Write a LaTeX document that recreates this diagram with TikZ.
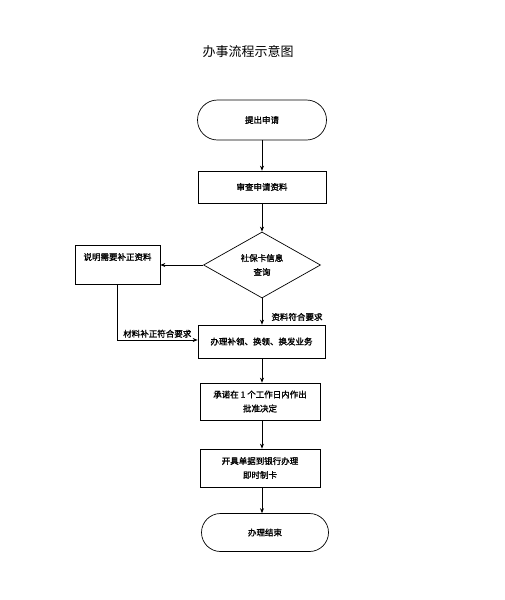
\documentclass[tikz,border=0pt]{standalone}
\usepackage{fontspec}
\setmainfont{Noto Sans CJK SC}
\newfontfamily\cjkb{Noto Sans CJK SC}[FakeBold=1.5]
\usetikzlibrary{shapes.geometric,shapes.misc,arrows.meta}
\begin{document}
\begin{tikzpicture}[x=1pt,y=-1pt,
  every node/.style={font=\cjkb\fontsize{8.5}{14}\selectfont},
  term/.style={draw,line width=0.7pt,rounded rectangle,inner sep=0pt},
  proc/.style={draw,line width=0.7pt,rectangle,inner sep=0pt,align=center},
  deci/.style={draw,line width=0.7pt,diamond,aspect=1.77,inner sep=0pt,align=center},
  lbl/.style={inner sep=1pt},
  arr/.style={line width=0.7pt,-{Stealth[length=5pt,width=4pt]}}]
\useasboundingbox (0,0) rectangle (505,600);
\node[font=\fontsize{13}{15}\selectfont] (title) at (248,52) {办事流程示意图};
\node[term,minimum width=129pt,minimum height=40pt] (start) at (262,120) {提出申请};
\node[proc,minimum width=128pt,minimum height=32pt] (review) at (262,187) {审查申请资料};
\node[deci,minimum width=117pt,minimum height=66pt] (check) at (262,265) {社保卡信息\\查询};
\node[proc,minimum width=85pt,minimum height=39pt] (fix) at (117.5,264.5) {};
\node[lbl,anchor=center] (fixt) at (117.5,257) {说明需要补正资料};
\node[proc,minimum width=127pt,minimum height=33pt] (handle) at (261.5,341.5) {办理补领、换领、换发业务};
\node[proc,minimum width=120pt,minimum height=37pt] (promise) at (260,401.5) {承诺在 1 个工作日内作出\\批准决定};
\node[proc,minimum width=120pt,minimum height=38pt] (card) at (260,468) {开具单据到银行办理\\即时制卡};
\node[term,minimum width=127pt,minimum height=38pt] (stop) at (265,532.5) {办理结束};
\coordinate (corner) at (117,340);
\node[lbl] (ok) at (297,317) {资料符合要求};
\draw[arr] (start.south -| 262,0) -- (review.north -| 262,0);
\draw[arr] (review.south -| 262,0) -- (check.north);
\draw[arr] (check.west) -- (fix.east |- check.west);
\draw[arr] (check.south) -- (handle.north -| check.south);
\draw[arr] (fix.south -| corner) -- (corner) -- (handle.west |- corner)
  node[lbl,pos=0.5,anchor=south,yshift=1pt] (fixok) {材料补正符合要求};
\draw[arr] (handle.south -| 262,0) -- (promise.north -| 262,0);
\draw[arr] (promise.south -| 262,0) -- (card.north -| 262,0);
\draw[arr] (card.south -| 262,0) -- (stop.north -| 262,0);
\end{tikzpicture}
\end{document}
